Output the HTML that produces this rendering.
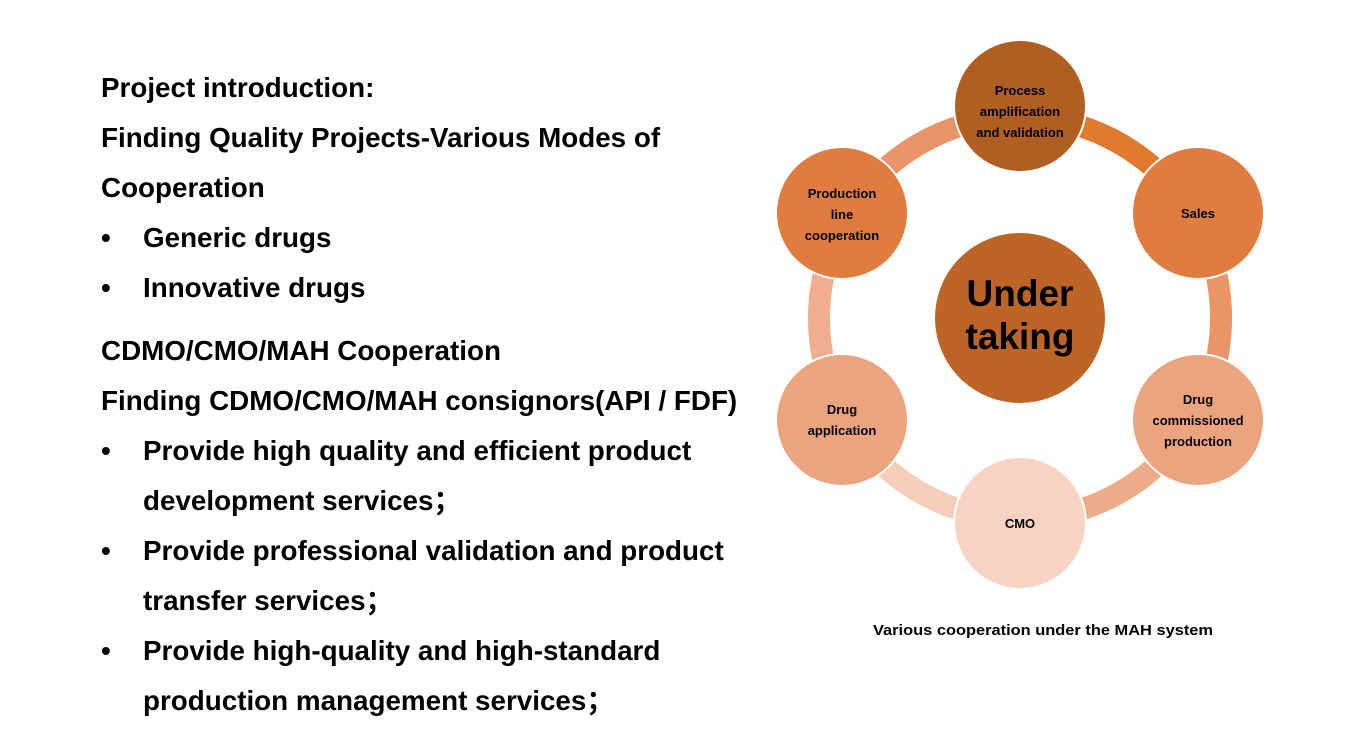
<!DOCTYPE html>
<html><head><meta charset="utf-8"><style>
body{margin:0;width:1370px;height:753px;background:#fff;position:relative;overflow:hidden;font-family:"Liberation Sans",Arial,sans-serif;}
.l{position:absolute;left:101px;font-weight:bold;font-size:27.8px;line-height:30px;color:#000;white-space:nowrap;}
.b{left:101px}
.b span{position:absolute;left:42px}
</style></head><body>
<div class="l" style="top:73px">Project introduction:</div>
<div class="l" style="top:123px">Finding Quality Projects-Various Modes of</div>
<div class="l" style="top:173px">Cooperation</div>
<div class="l b" style="top:223px">•<span>Generic drugs</span></div>
<div class="l b" style="top:273px">•<span>Innovative drugs</span></div>
<div class="l" style="top:336px">CDMO/CMO/MAH Cooperation</div>
<div class="l" style="top:386px">Finding CDMO/CMO/MAH consignors(API / FDF)</div>
<div class="l b" style="top:436px">•<span>Provide high quality and efficient product</span></div>
<div class="l b" style="top:486px"><span>development services；</span></div>
<div class="l b" style="top:536px">•<span>Provide professional validation and product</span></div>
<div class="l b" style="top:586px"><span>transfer services；</span></div>
<div class="l b" style="top:636px">•<span>Provide high-quality and high-standard</span></div>
<div class="l b" style="top:686px"><span>production management services；</span></div>

<svg width="1370" height="753" style="position:absolute;left:0;top:0" font-family="Liberation Sans, Arial, sans-serif" font-weight="bold">
<g fill="none" stroke-width="22">
<path d="M1020 117 A201 201 0 0 1 1194.1 217.5" stroke="#E07A2F"/>
<path d="M1194.1 217.5 A201 201 0 0 1 1194.1 418.5" stroke="#E99565"/>
<path d="M1194.1 418.5 A201 201 0 0 1 1020 519" stroke="#EDAC88"/>
<path d="M1020 519 A201 201 0 0 1 845.9 418.5" stroke="#F5CDB8"/>
<path d="M845.9 418.5 A201 201 0 0 1 845.9 217.5" stroke="#F0AE8E"/>
<path d="M845.9 217.5 A201 201 0 0 1 1020 117" stroke="#E9936A"/>
</g>
<g stroke="#fff" stroke-width="2">
<circle cx="1020" cy="106" r="66" fill="#B05E22"/>
<circle cx="1198" cy="213" r="66" fill="#E07C3F"/>
<circle cx="1198" cy="420" r="66" fill="#ECA47E"/>
<circle cx="1020" cy="523" r="66" fill="#F8D3C4"/>
<circle cx="842" cy="420" r="66" fill="#ECA47E"/>
<circle cx="842" cy="213" r="66" fill="#E07C3F"/>
<circle cx="1020" cy="318" r="86" fill="#BD6527"/>
</g>
<g font-size="13" text-anchor="middle" fill="#000">
<text x="1020" y="95">Process</text><text x="1020" y="116">amplification</text><text x="1020" y="137">and validation</text>
<text x="1198" y="218">Sales</text>
<text x="1198" y="404">Drug</text><text x="1198" y="425">commissioned</text><text x="1198" y="446">production</text>
<text x="1020" y="528">CMO</text>
<text x="842" y="414">Drug</text><text x="842" y="435">application</text>
<text x="842" y="198">Production</text><text x="842" y="219">line</text><text x="842" y="240">cooperation</text>
<text x="1043" y="635" font-size="15" textLength="340" lengthAdjust="spacingAndGlyphs">Various cooperation under the MAH system</text>
</g>
<g font-size="37" text-anchor="middle" fill="#000">
<text x="1020" y="306">Under</text><text x="1020" y="349">taking</text>
</g>
</svg>
</body></html>
